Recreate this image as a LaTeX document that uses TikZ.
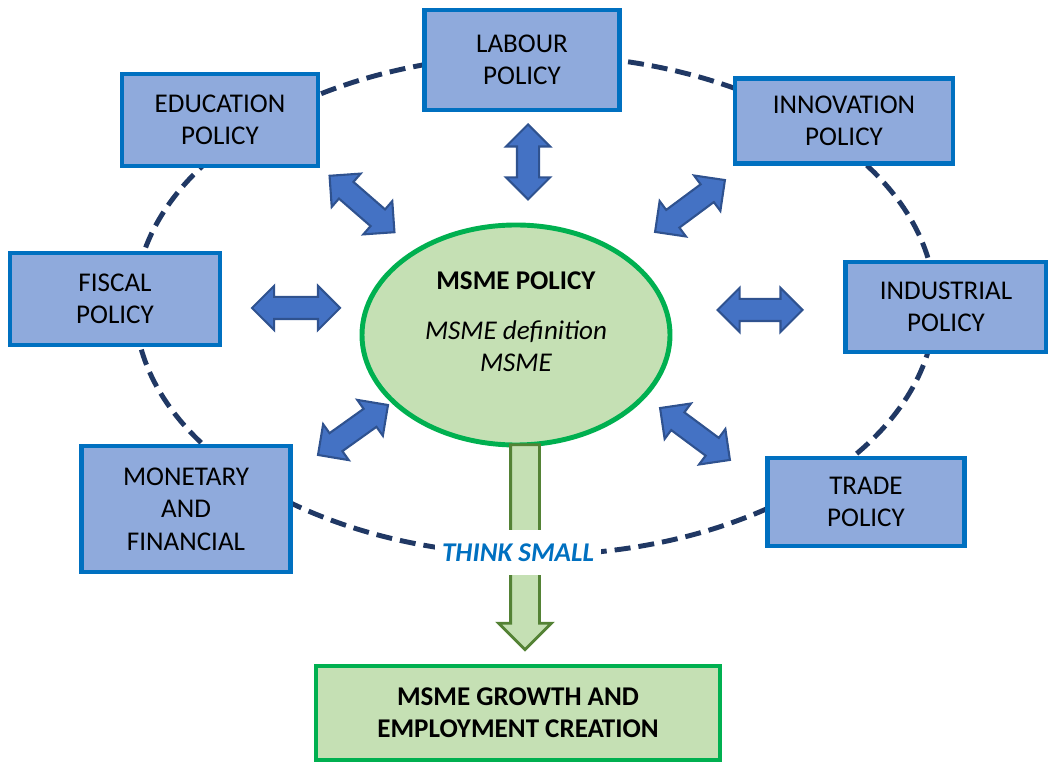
\documentclass[tikz,border=0pt]{standalone}
\usepackage{fontspec}
\setmainfont{Carlito}
\usetikzlibrary{shapes.geometric, shapes.arrows}
\definecolor{boxfill}{HTML}{8FAADC}
\definecolor{boxline}{HTML}{0070C0}
\definecolor{arrowfill}{HTML}{4472C4}
\definecolor{arrowline}{HTML}{2F528F}
\definecolor{ringline}{HTML}{203864}
\definecolor{greenfill}{HTML}{C5E0B4}
\definecolor{greenline}{HTML}{00B050}
\definecolor{darkgreen}{HTML}{548235}

\begin{document}
\begin{tikzpicture}[font=\fontsize{7.7}{9.2}\selectfont]
            \tikzstyle{policy} = [draw=boxline, line width=1.4pt, fill=boxfill, align=center, inner sep=0pt]
            \tikzstyle{link} = [double arrow, draw=arrowline, fill=arrowfill, line width=0.6pt, inner xsep=0pt, inner ysep=0.1cm, double arrow head extend=0.11cm]
            \useasboundingbox (0, 0) rectangle (10.48, 7.62);
            \draw[ringline, line width=1.4pt, dash pattern=on 0.16cm off 0.08cm] (5.35, 4.57) ellipse [x radius=4.0, y radius=2.5];
            % policy boxes
            \node[policy, minimum width=1.95cm, minimum height=1.00cm] (labour) at (5.22, 7.02) {LABOUR\\POLICY};
            \node[policy, minimum width=1.96cm, minimum height=0.92cm] (education) at (2.20, 6.42) {EDUCATION\\POLICY};
            \node[policy, minimum width=2.18cm, minimum height=0.85cm] (innovation) at (8.44, 6.41) {INNOVATION\\POLICY};
            \node[policy, minimum width=2.10cm, minimum height=0.92cm] (fiscal) at (1.15, 4.63) {FISCAL\\POLICY};
            \node[policy, minimum width=2.01cm, minimum height=0.90cm] (industrial) at (9.46, 4.55) {INDUSTRIAL\\POLICY};
            \node[policy, minimum width=2.09cm, minimum height=1.26cm] (monetary) at (1.86, 2.53) {MONETARY\\AND\\FINANCIAL};
            \node[policy, minimum width=1.97cm, minimum height=0.88cm] (trade) at (8.66, 2.60) {TRADE\\POLICY};
            % centre
            \node[ellipse, draw=greenline, line width=1.4pt, fill=greenfill, minimum width=3.08cm, minimum height=2.20cm] (msme) at (5.16, 4.27) {};
            \node[align=center, inner sep=0pt, yshift=0.13cm] (msmetext) at (msme.center) {\textbf{MSME POLICY}\\[5pt]\textit{MSME definition}\\\textit{MSME}};
            % double arrows
            \node[link, minimum height=0.75cm, rotate=90] (toplabour) at (5.28, 6.00) {};
            \node[link, minimum height=0.86cm, rotate=-41] (toeducation) at (3.62, 5.58) {};
            \node[link, minimum height=0.87cm, rotate=36.6] (toinnovation) at (6.90, 5.56) {};
            \node[link, minimum height=0.88cm] (tofiscal) at (2.96, 4.54) {};
            \node[link, minimum height=0.85cm] (toindustrial) at (7.60, 4.52) {};
            \node[link, minimum height=0.86cm, rotate=35.5] (tomonetary) at (3.53, 3.32) {};
            \node[link, minimum height=0.87cm, rotate=-36.6] (totrade) at (6.95, 3.28) {};
            % growth
            \node[single arrow, draw=darkgreen, fill=greenfill, line width=0.8pt, inner xsep=0pt, inner ysep=0.13cm, single arrow head extend=0.12cm, minimum height=2.05cm, rotate=-90] (down) at (5.25, 2.22) {};
            \node[fill=white, text=boxline, font=\fontsize{7.7}{9.2}\selectfont\bfseries\itshape, minimum height=0.45cm, inner xsep=2pt] (think) at (5.18, 2.09) {THINK SMALL};
            \node[draw=greenline, line width=1.4pt, fill=greenfill, minimum width=4.04cm, minimum height=0.94cm, align=center, font=\fontsize{7.7}{9.2}\selectfont\bfseries] (growth) at (5.18, 0.49) {MSME GROWTH AND\\EMPLOYMENT CREATION};
        \end{tikzpicture}
\end{document}
